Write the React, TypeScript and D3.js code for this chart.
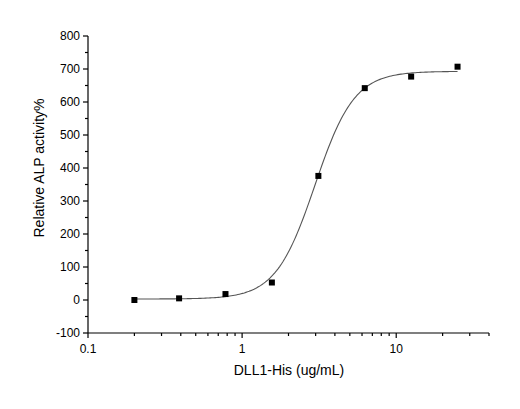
import React from 'react';
import * as d3 from 'd3';

// measured points
const concentrations = [0.2, 0.39, 0.78, 1.56, 3.125, 6.25, 12.5, 25];
const activity = [0, 5, 18, 53, 376, 642, 677, 707];

// 4PL fit parameters
const fitBottom = 3;
const fitTop = 693;
const fitEC50 = 2.97;
const fitHill = 3.4;

const yMajorTicks = [-100, 0, 100, 200, 300, 400, 500, 600, 700, 800];
const xMajorTicks = [0.1, 1, 10];

const W = 520;
const H = 409;
const left = 88;
const right = 489;
const top = 36;
const bottom = 333;
const font = 'Arial, "Liberation Sans", sans-serif';

const App: React.FC = () => {
  const x = d3.scaleLog().domain([0.1, 40]).range([left, right]);
  const y = d3.scaleLinear().domain([-100, 800]).range([bottom, top]);

  const yMinor = d3.range(-50, 800, 100);
  const xMinor: number[] = [];
  [0.1, 1, 10].forEach((d) => {
    for (let k = 2; k <= 9; k++) {
      const v = d * k;
      if (v <= 40) xMinor.push(v);
    }
  });

  const fit = (c: number) => fitBottom + (fitTop - fitBottom) / (1 + Math.pow(fitEC50 / c, fitHill));
  const curveX = d3.range(0, 201).map((i) => {
    const lo = Math.log10(concentrations[0]);
    const hi = Math.log10(concentrations[concentrations.length - 1]);
    return Math.pow(10, lo + ((hi - lo) * i) / 200);
  });
  const line = d3.line<number>()
    .x((c) => x(c))
    .y((c) => y(fit(c)))
    .curve(d3.curveLinear);

  return (
    <svg width={W} height={H} style={{ position: 'absolute', left: 0, top: 0, background: '#fff' }}>
      <rect width={W} height={H} fill="#fff" />
      {/* axes */}
      <line x1={left} x2={left} y1={top} y2={bottom} stroke="#000" strokeWidth={1.2} />
      <line x1={left} x2={right} y1={bottom} y2={bottom} stroke="#000" strokeWidth={1.2} />

      {yMajorTicks.map((t) => (
        <g key={'y' + t}>
          <line x1={left - 5} x2={left} y1={y(t)} y2={y(t)} stroke="#000" strokeWidth={1.2} />
          <text x={left - 8} y={y(t)} dy="0.35em" textAnchor="end" fontFamily={font} fontSize={12} fill="#000">
            {t}
          </text>
        </g>
      ))}
      {yMinor.map((t) => (
        <line key={'ym' + t} x1={left - 3} x2={left} y1={y(t)} y2={y(t)} stroke="#000" strokeWidth={1.2} />
      ))}

      {xMajorTicks.map((t) => (
        <g key={'x' + t}>
          <line x1={x(t)} x2={x(t)} y1={bottom} y2={bottom + 5} stroke="#000" strokeWidth={1.2} />
          <text x={x(t)} y={bottom + 20} textAnchor="middle" fontFamily={font} fontSize={12} fill="#000">
            {t}
          </text>
        </g>
      ))}
      {xMinor.map((t) => (
        <line key={'xm' + t} x1={x(t)} x2={x(t)} y1={bottom} y2={bottom + 3} stroke="#000" strokeWidth={1.2} />
      ))}

      {/* fitted curve */}
      <path d={line(curveX) || undefined} fill="none" stroke="#555" strokeWidth={1.1} />

      {/* data markers */}
      {concentrations.map((c, i) => (
        <rect key={'p' + i} x={x(c) - 3} y={y(activity[i]) - 3} width={6} height={6} fill="#000" />
      ))}

      {/* titles */}
      <text x={289} y={375} textAnchor="middle" fontFamily={font} fontSize={14} fill="#000">
        DLL1-His (ug/mL)
      </text>
      <text
        transform={`translate(44, 168) rotate(-90)`}
        textAnchor="middle"
        fontFamily={font}
        fontSize={14}
        fill="#000"
      >
        Relative ALP activity%
      </text>
    </svg>
  );
};

export default App;
